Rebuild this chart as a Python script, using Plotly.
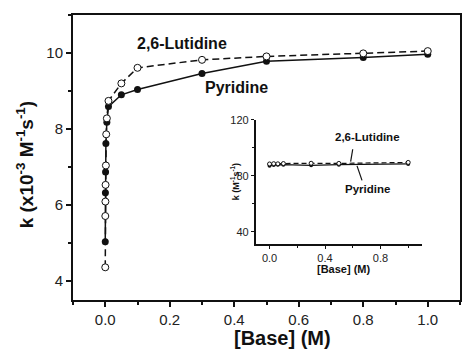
import plotly.graph_objects as go

# ---- data (main plot, k in units of 1e-3 M^-1 s^-1) ----
lut_x = [0, 0.0002, 0.0005, 0.001, 0.002, 0.003, 0.005, 0.01, 0.05, 0.1, 0.3, 0.5, 0.8, 1.0]
lut_k = [4.36, 5.71, 6.09, 6.53, 7.04, 7.86, 8.28, 8.74, 9.20, 9.61, 9.82, 9.91, 9.99, 10.05]
pyr_x = [0, 0.0005, 0.001, 0.002, 0.005, 0.01, 0.05, 0.1, 0.3, 0.5, 0.8, 1.0]
pyr_k = [5.03, 6.32, 6.87, 7.62, 8.18, 8.59, 8.90, 9.04, 9.46, 9.78, 9.88, 9.97]

# ---- data (inset, k in M^-1 s^-1) ----
ins_lut_x = [0, 0.03, 0.06, 0.1, 0.3, 0.5, 1.0]
ins_lut_k = [88.5, 88.7, 88.6, 88.8, 89.0, 88.9, 89.6]
ins_pyr_x = [0, 0.03, 0.06, 0.1, 0.3, 0.5, 1.0]
ins_pyr_k = [87.3, 87.8, 87.9, 88.0, 87.5, 88.0, 88.5]

FONT = "Liberation Sans, Arial, sans-serif"
BLACK = "#111111"

fig = go.Figure()

# main traces
fig.add_trace(go.Scatter(x=pyr_x, y=pyr_k, mode="lines+markers",
                         line=dict(color=BLACK, width=1.5),
                         marker=dict(symbol="circle", size=7, color=BLACK),
                         showlegend=False))
fig.add_trace(go.Scatter(x=lut_x, y=lut_k, mode="lines+markers",
                         line=dict(color=BLACK, width=1.5, dash="7px,4px"),
                         marker=dict(symbol="circle", size=7, color="white",
                                     line=dict(color=BLACK, width=1)),
                         showlegend=False))

# inset traces
fig.add_trace(go.Scatter(x=ins_pyr_x, y=ins_pyr_k, mode="lines+markers",
                         xaxis="x2", yaxis="y2",
                         line=dict(color=BLACK, width=1.2),
                         marker=dict(symbol="circle", size=4, color=BLACK),
                         showlegend=False))
fig.add_trace(go.Scatter(x=ins_lut_x, y=ins_lut_k, mode="lines+markers",
                         xaxis="x2", yaxis="y2",
                         line=dict(color=BLACK, width=1.2, dash="5px,3px"),
                         marker=dict(symbol="circle", size=4, color="white",
                                     line=dict(color=BLACK, width=1)),
                         showlegend=False))

tickfont_main = dict(family=FONT, size=15, color="#222")
tickfont_ins = dict(family=FONT, size=11, color="#222")

fig.update_layout(
    width=462, height=350,
    margin=dict(l=73, r=0, t=15, b=50),
    paper_bgcolor="white", plot_bgcolor="white",
    font=dict(family=FONT, color=BLACK),
    xaxis=dict(range=[-0.1, 1.1], tickvals=[0, 0.2, 0.4, 0.6, 0.8, 1.0],
               tickformat=".1f", showgrid=False, zeroline=False,
               showline=True, linecolor=BLACK, linewidth=2, mirror=True,
               ticks="outside", ticklen=5, tickwidth=1.5, tickcolor=BLACK,
               minor=dict(dtick=0.1, tick0=0, ticks="outside", ticklen=3,
                          tickwidth=1.5, tickcolor=BLACK),
               tickfont=tickfont_main),
    yaxis=dict(range=[3.5, 11], tickvals=[4, 6, 8, 10], showgrid=False,
               zeroline=False, showline=True, linecolor=BLACK, linewidth=2,
               mirror=True, ticks="outside", ticklen=5, tickwidth=1.5,
               tickcolor=BLACK,
               minor=dict(dtick=1, tick0=0, ticks="outside", ticklen=3,
                          tickwidth=1.5, tickcolor=BLACK),
               tickfont=tickfont_main),
    xaxis2=dict(domain=[0.472, 0.902], anchor="y2", range=[-0.1, 1.1],
                tickvals=[0, 0.4, 0.8], tickformat=".1f", showgrid=False,
                zeroline=False, showline=True, linecolor=BLACK, linewidth=1.5,
                ticks="outside", ticklen=3, tickwidth=1, tickcolor=BLACK,
                minor=dict(dtick=0.2, tick0=0, ticks="outside", ticklen=2,
                           tickwidth=1, tickcolor=BLACK),
                tickfont=tickfont_ins),
    yaxis2=dict(domain=[0.195, 0.632], anchor="x2", range=[31, 120],
                tickvals=[40, 80, 120], showgrid=False, zeroline=False,
                showline=True, linecolor=BLACK, linewidth=1.5,
                ticks="outside", ticklen=3, tickwidth=1, tickcolor=BLACK,
                minor=dict(dtick=20, tick0=0, ticks="outside", ticklen=2,
                           tickwidth=1, tickcolor=BLACK),
                tickfont=tickfont_ins),
)

C = dict(xanchor="center", yanchor="middle", showarrow=False)
annots = [
    # axis titles
    dict(text="<b>[Base] (M)</b>", xref="paper", yref="paper", x=0.542, y=-0.133,
         font=dict(size=20, family=FONT, color=BLACK), **C),
    dict(text="<b>k (x10<sup>-3</sup> M<sup>-1</sup>s<sup>-1</sup>)</b>", xref="paper",
         yref="paper", x=-0.123, y=0.474, textangle=-90,
         font=dict(size=19, family=FONT, color=BLACK), **C),
    # series labels
    dict(text="<b>2,6-Lutidine</b>", x=0.238, y=10.24, xref="x", yref="y",
         font=dict(size=16, family=FONT, color=BLACK), **C),
    dict(text="<b>Pyridine</b>", x=0.408, y=9.08, xref="x", yref="y",
         font=dict(size=16, family=FONT, color=BLACK), **C),
    # inset
    dict(text="<b>[Base] (M)</b>", xref="paper", yref="paper", x=0.701, y=0.109,
         font=dict(size=11, family=FONT, color=BLACK), **C),
    dict(text="<b>k (M<sup>-1</sup>s<sup>-1</sup>)</b>", xref="paper", yref="paper",
         x=0.419, y=0.414, textangle=-90,
         font=dict(size=9, family=FONT, color=BLACK), **C),
    dict(text="<b>2,6-Lutidine</b>", x=0.705, y=108, xref="x2", yref="y2",
         font=dict(size=11.5, family=FONT, color=BLACK), **C),
    dict(text="<b>Pyridine</b>", x=0.707, y=70.4, xref="x2", yref="y2",
         font=dict(size=11.5, family=FONT, color=BLACK), **C),
]
fig.update_layout(annotations=annots)

fig.add_shape(type="line", xref="x2", yref="y2", x0=0.60, y0=99, x1=0.585, y1=90.1,
              line=dict(color=BLACK, width=1.2))
fig.add_shape(type="line", xref="x2", yref="y2", x0=0.631, y0=87.1, x1=0.667, y1=76.8,
              line=dict(color=BLACK, width=1.2))

fig.write_html("out.html")
